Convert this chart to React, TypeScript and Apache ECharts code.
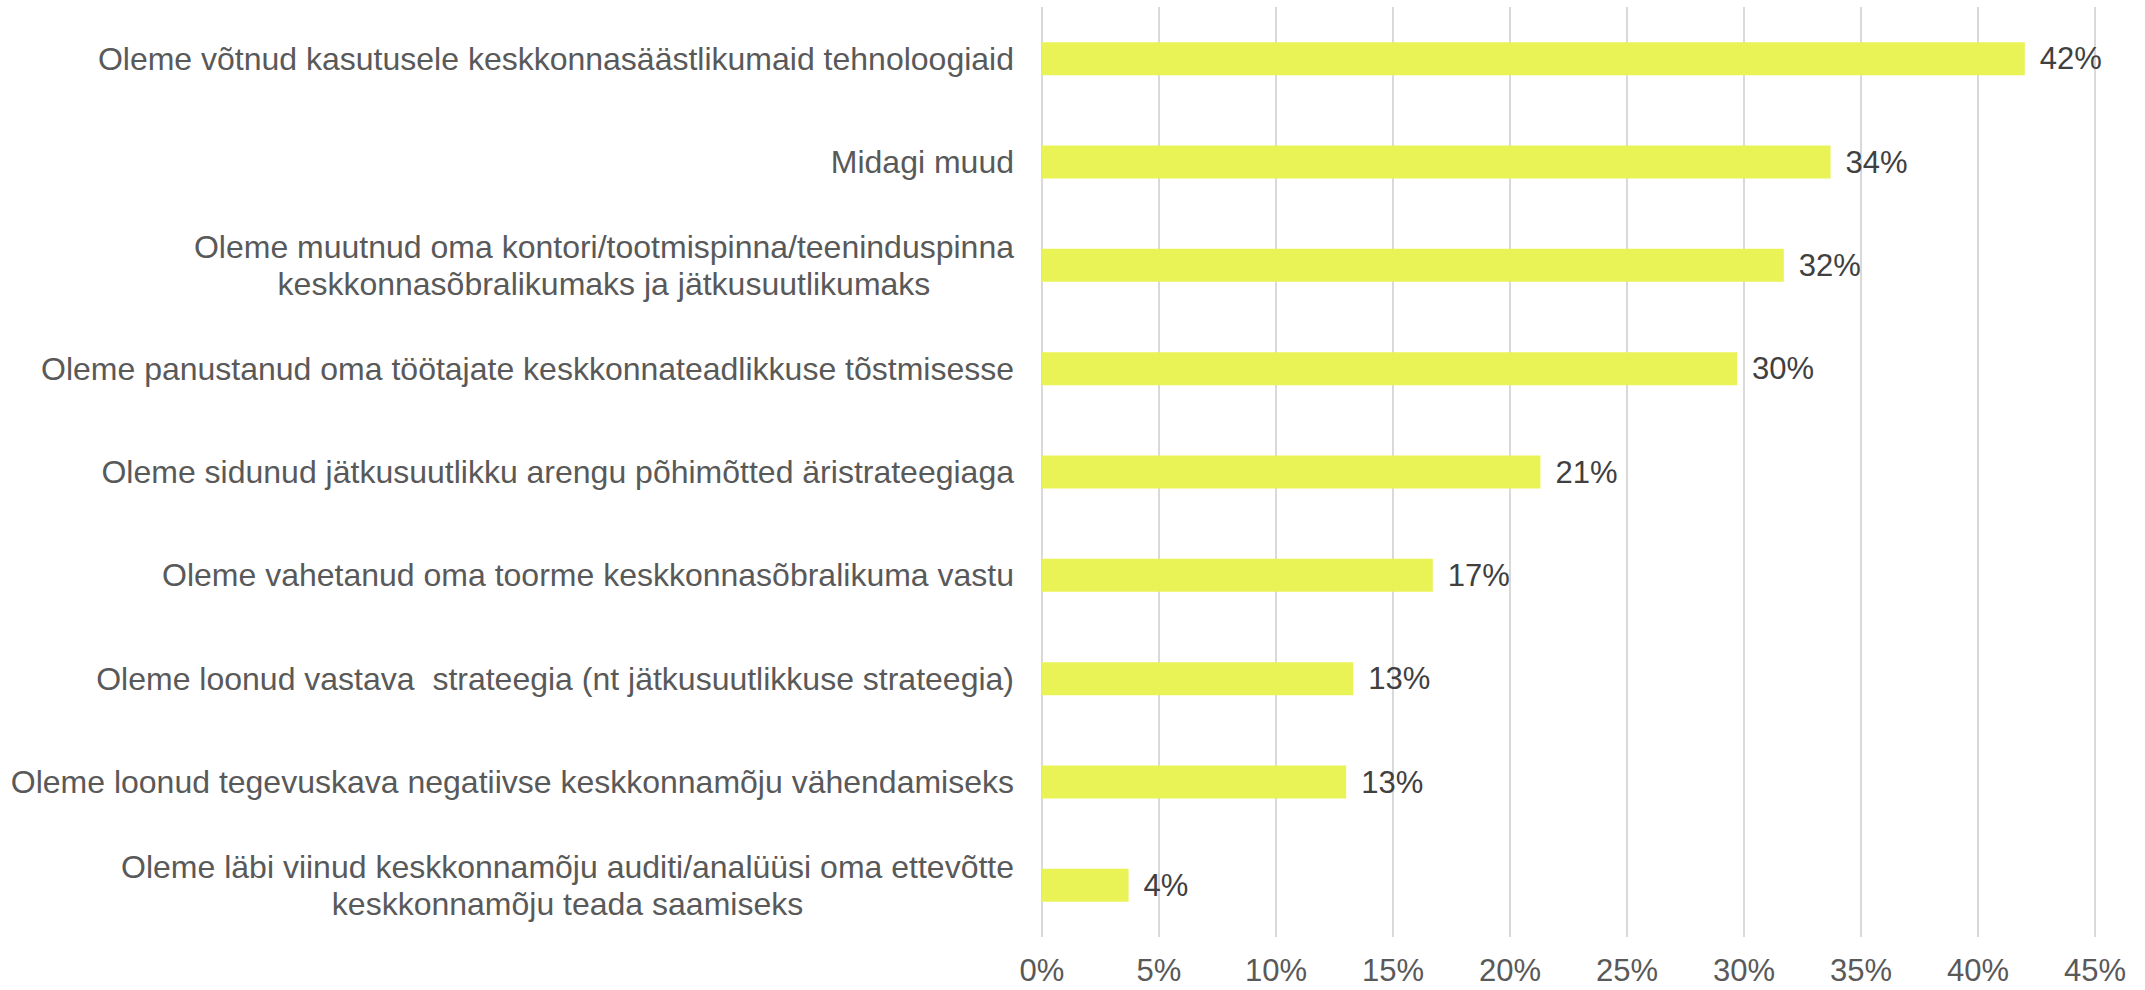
import React, { useEffect, useRef } from "react";
import * as echarts from "echarts";

const categories: string[] = [
  "Oleme võtnud kasutusele keskkonnasäästlikumaid tehnoloogiaid",
  "Midagi muud",
  "Oleme muutnud oma kontori/tootmispinna/teeninduspinna\nkeskkonnasõbralikumaks ja jätkusuutlikumaks",
  "Oleme panustanud oma töötajate keskkonnateadlikkuse tõstmisesse",
  "Oleme sidunud jätkusuutlikku arengu põhimõtted äristrateegiaga",
  "Oleme vahetanud oma toorme keskkonnasõbralikuma vastu",
  "Oleme loonud vastava  strateegia (nt jätkusuutlikkuse strateegia)",
  "Oleme loonud tegevuskava negatiivse keskkonnamõju vähendamiseks",
  "Oleme läbi viinud keskkonnamõju auditi/analüüsi oma ettevõtte\nkeskkonnamõju teada saamiseks",
];

const values: number[] = [42.0, 33.7, 31.7, 29.7, 21.3, 16.7, 13.3, 13.0, 3.7];

const xTicks = { min: 0, max: 45, interval: 5 };

const FONT = "'Liberation Sans', Arial, sans-serif";
const TEXT_DARK = "#404040";
const TEXT = "#595959";
const BAR = "#E9F356";

export default function App() {
  const ref = useRef<HTMLDivElement>(null);
  useEffect(() => {
    if (!ref.current) return;
    const chart = echarts.init(ref.current, null, { renderer: "svg" });
    chart.setOption({
      animation: false,
      backgroundColor: "#ffffff",
      textStyle: { fontFamily: FONT },
      grid: { left: 1042, right: 50, top: 7, bottom: 53, containLabel: false },
      xAxis: {
        type: "value",
        min: xTicks.min,
        max: xTicks.max,
        interval: xTicks.interval,
        axisLine: { show: false },
        axisTick: { show: false },
        splitLine: { show: true, lineStyle: { color: "#D9D9D9", width: 2 } },
        axisLabel: {
          formatter: "{value}%",
          color: TEXT,
          fontSize: 31,
          lineHeight: 31,
          fontFamily: FONT,
          margin: 18,
        },
      },
      yAxis: {
        type: "category",
        inverse: true,
        data: categories,
        axisLine: { show: false },
        axisTick: { show: false },
        axisLabel: {
          margin: 28,
          color: TEXT,
          fontSize: 32,
          fontFamily: FONT,
          lineHeight: 37,
          formatter: (v: string) =>
            v.split("\n").map((l) => `{c|${l}}`).join("\n"),
          rich: {
            c: {
              align: "center",
              color: TEXT,
              fontSize: 32,
              fontFamily: FONT,
              lineHeight: 37,
            },
          },
        },
      },
      series: [
        {
          type: "bar",
          data: values,
          barWidth: 33,
          itemStyle: { color: BAR },
          label: {
            show: true,
            position: "right",
            distance: 15,
            color: TEXT_DARK,
            fontSize: 31,
            fontFamily: FONT,
            formatter: (p: any) => `${Math.round(p.value)}%`,
          },
        },
      ],
    });
    return () => chart.dispose();
  }, []);
  return (
    <div
      ref={ref}
      style={{ position: "absolute", left: 0, top: 0, width: 2145, height: 990 }}
    />
  );
}
